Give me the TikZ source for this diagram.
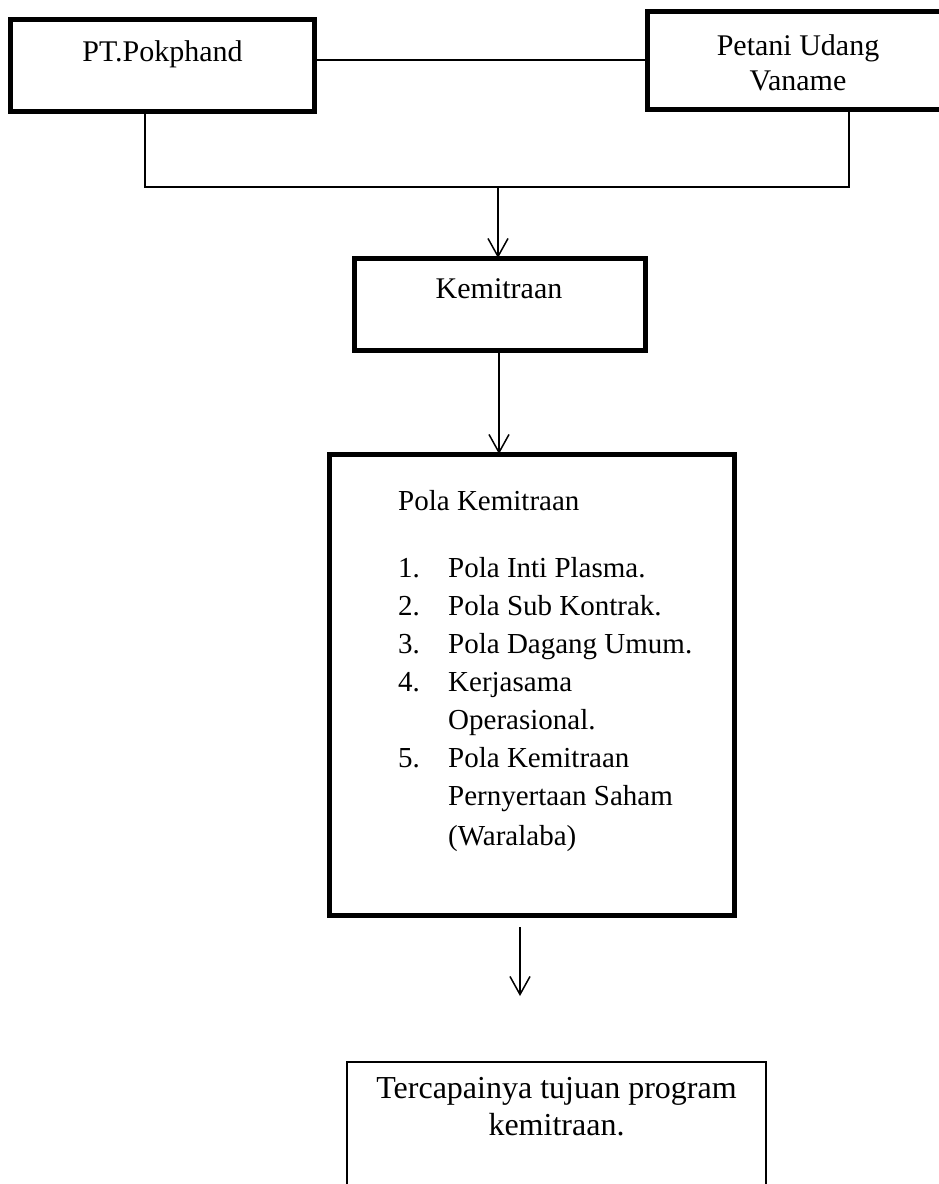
\documentclass[tikz,border=0pt]{standalone}
\usepackage{fontspec}
\setmainfont{Liberation Serif}
\usetikzlibrary{arrows.meta}
\begin{document}
\begin{tikzpicture}[x=1pt,y=-1pt,
  thickbox/.style={draw=black,line width=5pt,inner sep=0pt,outer sep=0pt,rectangle},
  thinbox/.style={draw=black,line width=1.8pt,inner sep=0pt,outer sep=0pt,rectangle},
  conn/.style={draw=black,line width=1.5pt},
  arr/.style={conn,-{Straight Barb[length=18pt,width=20pt,line width=1.5pt]}},
  lbl/.style={anchor=base,inner sep=0pt,font=\fontsize{30pt}{38pt}\selectfont},
  biglbl/.style={anchor=base,inner sep=0pt,font=\fontsize{32pt}{38pt}\selectfont},
  lbll/.style={anchor=base west,inner sep=0pt,font=\fontsize{29pt}{38pt}\selectfont}]
\useasboundingbox (0,0) rectangle (939,1184);
% boxes
\node[thickbox,minimum width=304pt,minimum height=91.5pt] (pt) at (162.5,65.25) {};
\node[thickbox,minimum width=304pt,minimum height=98pt] (pet) at (799,60.5) {};
\node[thickbox,minimum width=290.5pt,minimum height=92pt] (kem) at (499.75,304) {};
\node[thickbox,minimum width=405pt,minimum height=461.5pt] (pola) at (532,684.75) {};
\node[thinbox,minimum width=419pt,minimum height=160pt] (fin) at (556.5,1142) {};
% labels
\node[lbl] (ptl) at (162.5,61) {PT.Pokphand};
\node[lbl] (petl1) at (798,55) {Petani Udang};
\node[lbl] (petl2) at (798,90) {Vaname};
\node[lbl] (keml) at (499,298) {Kemitraan};
\node[lbll] (pk) at (398,510) {Pola Kemitraan};
\node[lbll] (n1) at (398,577) {1.};
\node[lbll] (t1) at (448,577) {Pola Inti Plasma.};
\node[lbll] (n2) at (398,615) {2.};
\node[lbll] (t2) at (448,615) {Pola Sub Kontrak.};
\node[lbll] (n3) at (398,653) {3.};
\node[lbll] (t3) at (448,653) {Pola Dagang Umum.};
\node[lbll] (n4) at (398,691) {4.};
\node[lbll] (t4) at (448,691) {Kerjasama};
\node[lbll] (t4b) at (448,729) {Operasional.};
\node[lbll] (n5) at (398,767) {5.};
\node[lbll] (t5) at (448,767) {Pola Kemitraan};
\node[lbll] (t5b) at (448,805) {Pernyertaan Saham};
\node[lbll] (t5c) at (448,845) {(Waralaba)};
\node[biglbl] (fl1) at (556.5,1098) {Tercapainya tujuan program};
\node[biglbl] (fl2) at (556.5,1135) {kemitraan.};
% connectors
\coordinate (ptb) at (145,111);
\coordinate (petb) at (849,109.5);
\coordinate (busL) at (145,187);
\coordinate (busR) at (849,187);
\coordinate (bus) at (498,187);
\coordinate (a3s) at (520,927);
\coordinate (a3e) at (520,996);
\draw[conn] (pt.east |- 0,60) -- (pet.west |- 0,60);
\draw[conn] (ptb) -- (busL) -- (busR) -- (petb);
\draw[arr] (bus) -- (bus |- kem.north);
\draw[arr] (kem.south -| 499,0) -- (499,0 |- pola.north);
\draw[arr] (a3s) -- (a3e);
\end{tikzpicture}
\end{document}
